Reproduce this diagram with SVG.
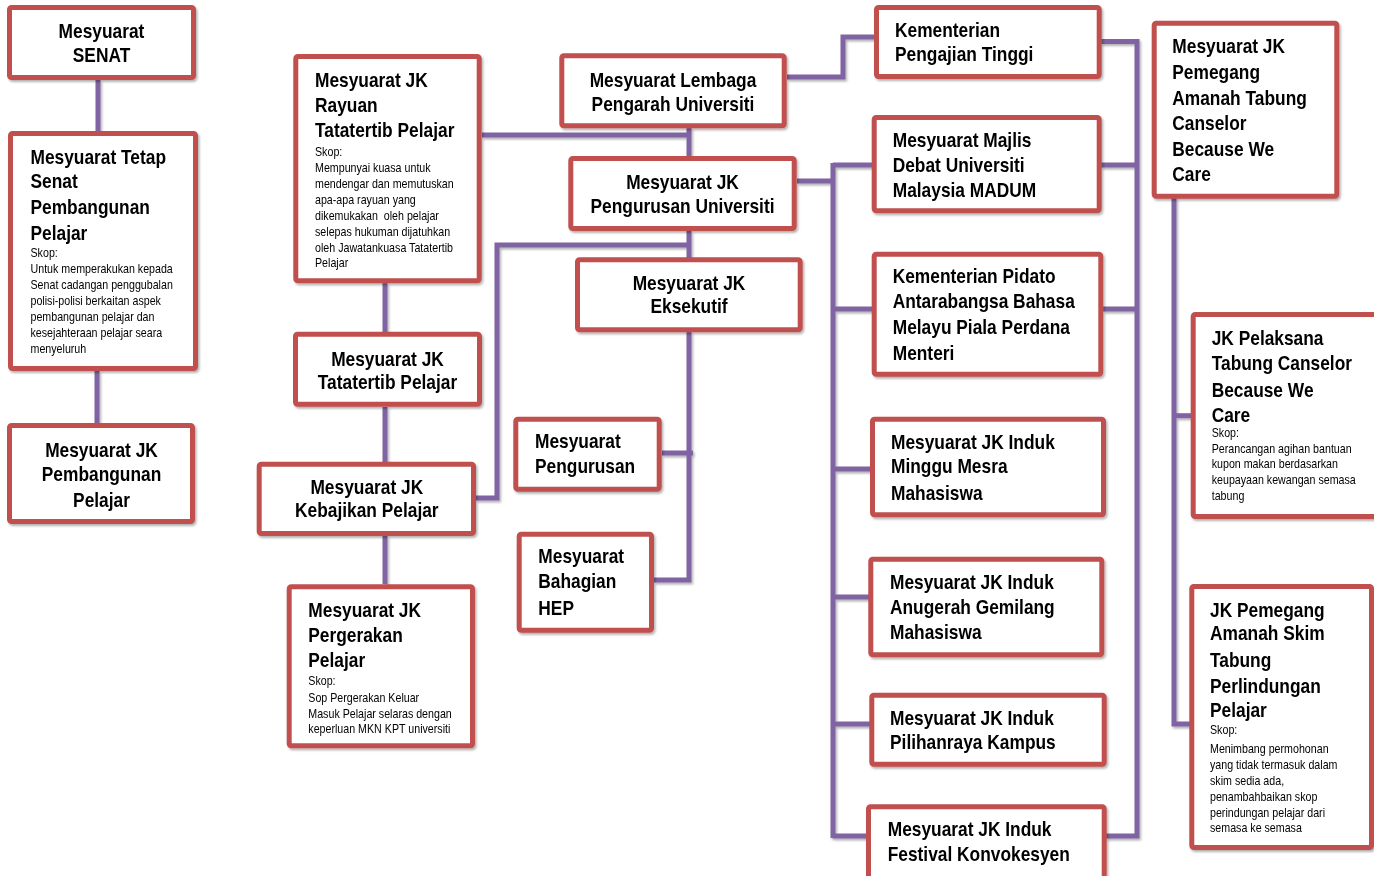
<svg xmlns="http://www.w3.org/2000/svg" width="1374" height="876" viewBox="0 0 1374 876">
<defs>
<filter id="sh" x="-10%" y="-10%" width="120%" height="120%">
<feDropShadow dx="1.5" dy="2" stdDeviation="1.2" flood-color="#000" flood-opacity="0.3"/>
</filter>
<style>
.box{fill:#fff;stroke:#C0504D;stroke-width:5;}
.ln{fill:none;stroke:#8064A2;stroke-width:5;stroke-linejoin:miter;stroke-linecap:butt;}
.b{font-family:"Liberation Sans",Arial,sans-serif;font-weight:bold;font-size:19.5px;fill:#000;}
.s{font-family:"Liberation Sans",Arial,sans-serif;font-size:12px;fill:#000;}
.m{text-anchor:middle;}
</style>
</defs>
<rect width="1374" height="876" fill="#fff"/>
<g id="connectors" filter="url(#sh)">
<path class="ln" d="M98 80V131"/>
<path class="ln" d="M97 371V423"/>
<path class="ln" d="M385 283V332"/>
<path class="ln" d="M385 407V462"/>
<path class="ln" d="M385 536V584"/>
<path class="ln" d="M482 135H689"/>
<path class="ln" d="M689 128V157"/>
<path class="ln" d="M689 231V258"/>
<path class="ln" d="M476 498H497V245H689"/>
<path class="ln" d="M689 332V580H654"/>
<path class="ln" d="M662 453H693"/>
<path class="ln" d="M787 77H843V37H876"/>
<path class="ln" d="M1101 41.5H1137V836H1106"/>
<path class="ln" d="M1101 165H1137"/>
<path class="ln" d="M1103 309H1137"/>
<path class="ln" d="M797 181H833"/>
<path class="ln" d="M833 163V838"/>
<path class="ln" d="M833 165H872"/>
<path class="ln" d="M833 309H872"/>
<path class="ln" d="M833 469H871"/>
<path class="ln" d="M833 597H869"/>
<path class="ln" d="M833 724H870"/>
<path class="ln" d="M833 836H867"/>
<path class="ln" d="M1174 198V724H1190"/>
<path class="ln" d="M1174 415.7H1192"/>
</g>
<g filter="url(#sh)">
<g id="n-senat">
<rect class="box" x="9.5" y="7.5" width="184" height="70" rx="2"/>
<text class="b m" transform="translate(101.5 0) scale(.89 1)"><tspan x="0" y="38">Mesyuarat</tspan><tspan x="0" y="62">SENAT</tspan></text>
</g>
<g id="n-tetap">
<rect class="box" x="10.5" y="133.5" width="185" height="235" rx="2"/>
<text class="b" transform="translate(30.5 0) scale(.89 1)"><tspan x="0" y="164">Mesyuarat Tetap</tspan><tspan x="0" y="188">Senat</tspan><tspan x="0" y="214.5">Pembangunan</tspan><tspan x="0" y="240">Pelajar</tspan></text>
<text class="s" transform="translate(30.5 0) scale(.89 1)"><tspan x="0" y="257">Skop:</tspan><tspan x="0" y="273.5">Untuk memperakukan kepada</tspan><tspan x="0" y="289.5">Senat cadangan penggubalan</tspan><tspan x="0" y="305.5">polisi-polisi berkaitan aspek</tspan><tspan x="0" y="321.5">pembangunan pelajar dan</tspan><tspan x="0" y="337.5">kesejahteraan pelajar seara</tspan><tspan x="0" y="353">menyeluruh</tspan></text>
</g>
<g id="n-jkpembangunan">
<rect class="box" x="9.5" y="425.5" width="183" height="96" rx="2"/>
<text class="b m" transform="translate(101.5 0) scale(.89 1)"><tspan x="0" y="456.7">Mesyuarat JK</tspan><tspan x="0" y="480.7">Pembangunan</tspan><tspan x="0" y="506.7">Pelajar</tspan></text>
</g>
<g id="n-rayuan">
<rect class="box" x="295.8" y="56.5" width="183.4" height="224.3" rx="2"/>
<text class="b" transform="translate(315 0) scale(.89 1)"><tspan x="0" y="86.7">Mesyuarat JK</tspan><tspan x="0" y="111.7">Rayuan</tspan><tspan x="0" y="137.3">Tatatertib Pelajar</tspan></text>
<text class="s" transform="translate(315 0) scale(.89 1)"><tspan x="0" y="156">Skop:</tspan><tspan x="0" y="171.7">Mempunyai kuasa untuk</tspan><tspan x="0" y="187.7">mendengar dan memutuskan</tspan><tspan x="0" y="204">apa-apa rayuan yang</tspan><tspan x="0" y="220" xml:space="preserve">dikemukakan  oleh pelajar</tspan><tspan x="0" y="235.7">selepas hukuman dijatuhkan</tspan><tspan x="0" y="251.7">oleh Jawatankuasa Tatatertib</tspan><tspan x="0" y="267.3">Pelajar</tspan></text>
</g>
<g id="n-tatatertib">
<rect class="box" x="295.5" y="334.2" width="184" height="70" rx="2"/>
<text class="b m" transform="translate(387.5 0) scale(.89 1)"><tspan x="0" y="366">Mesyuarat JK</tspan><tspan x="0" y="389.3">Tatatertib Pelajar</tspan></text>
</g>
<g id="n-kebajikan">
<rect class="box" x="259.2" y="464.2" width="214.3" height="69.3" rx="2"/>
<text class="b m" transform="translate(366.8 0) scale(.89 1)"><tspan x="0" y="494">Mesyuarat JK</tspan><tspan x="0" y="517.3">Kebajikan Pelajar</tspan></text>
</g>
<g id="n-pergerakan">
<rect class="box" x="289.2" y="586.8" width="183.3" height="159" rx="2"/>
<text class="b" transform="translate(308.3 0) scale(.89 1)"><tspan x="0" y="616.7">Mesyuarat JK</tspan><tspan x="0" y="641.7">Pergerakan</tspan><tspan x="0" y="666.7">Pelajar</tspan></text>
<text class="s" transform="translate(308.3 0) scale(.89 1)"><tspan x="0" y="685">Skop:</tspan><tspan x="0" y="701.7">Sop Pergerakan Keluar</tspan><tspan x="0" y="717.7">Masuk Pelajar selaras dengan</tspan><tspan x="0" y="733.3">keperluan MKN KPT universiti</tspan></text>
</g>
<g id="n-lembaga">
<rect class="box" x="561.8" y="55.8" width="222.4" height="70" rx="2"/>
<text class="b m" transform="translate(673 0) scale(.89 1)"><tspan x="0" y="87.3">Mesyuarat Lembaga</tspan><tspan x="0" y="110.7">Pengarah Universiti</tspan></text>
</g>
<g id="n-pengurusan-univ">
<rect class="box" x="570.8" y="158.5" width="223.4" height="70" rx="2"/>
<text class="b m" transform="translate(682.5 0) scale(.89 1)"><tspan x="0" y="189.3">Mesyuarat JK</tspan><tspan x="0" y="212.7">Pengurusan Universiti</tspan></text>
</g>
<g id="n-eksekutif">
<rect class="box" x="577.5" y="259.8" width="222.7" height="70" rx="2"/>
<text class="b m" transform="translate(689 0) scale(.89 1)"><tspan x="0" y="290">Mesyuarat JK</tspan><tspan x="0" y="313.3">Eksekutif</tspan></text>
</g>
<g id="n-pengurusan">
<rect class="box" x="515.8" y="419.2" width="143.4" height="70" rx="2"/>
<text class="b" transform="translate(535 0) scale(.89 1)"><tspan x="0" y="448.3">Mesyuarat</tspan><tspan x="0" y="472.7">Pengurusan</tspan></text>
</g>
<g id="n-hep">
<rect class="box" x="519.2" y="534.2" width="132.3" height="96" rx="2"/>
<text class="b" transform="translate(538.3 0) scale(.89 1)"><tspan x="0" y="563.3">Mesyuarat</tspan><tspan x="0" y="588.3">Bahagian</tspan><tspan x="0" y="615">HEP</tspan></text>
</g>
<g id="n-kpt">
<rect class="box" x="876.5" y="7.5" width="222.7" height="69" rx="2"/>
<text class="b" transform="translate(895 0) scale(.89 1)"><tspan x="0" y="36.7">Kementerian</tspan><tspan x="0" y="61">Pengajian Tinggi</tspan></text>
</g>
<g id="n-madum">
<rect class="box" x="874.2" y="117.5" width="225" height="93.3" rx="2"/>
<text class="b" transform="translate(892.7 0) scale(.89 1)"><tspan x="0" y="146.7">Mesyuarat Majlis</tspan><tspan x="0" y="171.7">Debat Universiti</tspan><tspan x="0" y="196.7">Malaysia MADUM</tspan></text>
</g>
<g id="n-pidato">
<rect class="box" x="874.2" y="254.2" width="226.6" height="120" rx="2"/>
<text class="b" transform="translate(892.7 0) scale(.89 1)"><tspan x="0" y="283.3">Kementerian Pidato</tspan><tspan x="0" y="308.3">Antarabangsa Bahasa</tspan><tspan x="0" y="334.3">Melayu Piala Perdana</tspan><tspan x="0" y="360">Menteri</tspan></text>
</g>
<g id="n-minggu">
<rect class="box" x="872.5" y="419.2" width="231" height="95.6" rx="2"/>
<text class="b" transform="translate(891 0) scale(.89 1)"><tspan x="0" y="449.3">Mesyuarat JK Induk</tspan><tspan x="0" y="473.3">Minggu Mesra</tspan><tspan x="0" y="500">Mahasiswa</tspan></text>
</g>
<g id="n-anugerah">
<rect class="box" x="870.8" y="559.2" width="231" height="95.6" rx="2"/>
<text class="b" transform="translate(890 0) scale(.89 1)"><tspan x="0" y="589.3">Mesyuarat JK Induk</tspan><tspan x="0" y="614">Anugerah Gemilang</tspan><tspan x="0" y="639.3">Mahasiswa</tspan></text>
</g>
<g id="n-pilihanraya">
<rect class="box" x="871.8" y="695.2" width="232.4" height="69" rx="2"/>
<text class="b" transform="translate(890 0) scale(.89 1)"><tspan x="0" y="725">Mesyuarat JK Induk</tspan><tspan x="0" y="749.3">Pilihanraya Kampus</tspan></text>
</g>
<g id="n-festival">
<rect class="box" x="868.5" y="806.8" width="235.7" height="75" rx="2"/>
<text class="b" transform="translate(887.7 0) scale(.89 1)"><tspan x="0" y="836">Mesyuarat JK Induk</tspan><tspan x="0" y="861">Festival Konvokesyen</tspan></text>
</g>
<g id="n-pemegang">
<rect class="box" x="1154.2" y="23.2" width="182.6" height="173" rx="2"/>
<text class="b" transform="translate(1172.3 0) scale(.89 1)"><tspan x="0" y="53.3">Mesyuarat JK</tspan><tspan x="0" y="79">Pemegang</tspan><tspan x="0" y="105">Amanah Tabung</tspan><tspan x="0" y="130">Canselor</tspan><tspan x="0" y="156">Because We</tspan><tspan x="0" y="181">Care</tspan></text>
</g>
<g id="n-pelaksana">
<rect class="box" x="1193.2" y="314.5" width="190" height="202" rx="2"/>
<text class="b" transform="translate(1211.7 0) scale(.89 1)"><tspan x="0" y="345">JK Pelaksana</tspan><tspan x="0" y="370">Tabung Canselor</tspan><tspan x="0" y="396.7">Because We</tspan><tspan x="0" y="421.7">Care</tspan></text>
<text class="s" transform="translate(1211.7 0) scale(.89 1)"><tspan x="0" y="436.7">Skop:</tspan><tspan x="0" y="453.3">Perancangan agihan bantuan</tspan><tspan x="0" y="468.3">kupon makan berdasarkan</tspan><tspan x="0" y="484.3">keupayaan kewangan semasa</tspan><tspan x="0" y="500">tabung</tspan></text>
</g>
<g id="n-skim">
<rect class="box" x="1191.8" y="586.5" width="179.7" height="261" rx="2"/>
<text class="b" transform="translate(1210 0) scale(.89 1)"><tspan x="0" y="617.3">JK Pemegang</tspan><tspan x="0" y="640">Amanah Skim</tspan><tspan x="0" y="666.7">Tabung</tspan><tspan x="0" y="693.3">Perlindungan</tspan><tspan x="0" y="717.3">Pelajar</tspan></text>
<text class="s" transform="translate(1210 0) scale(.89 1)"><tspan x="0" y="734">Skop:</tspan><tspan x="0" y="753.3">Menimbang permohonan</tspan><tspan x="0" y="769.3">yang tidak termasuk dalam</tspan><tspan x="0" y="785">skim sedia ada,</tspan><tspan x="0" y="801">penambahbaikan skop</tspan><tspan x="0" y="816.7">perindungan pelajar dari</tspan><tspan x="0" y="832.3">semasa ke semasa</tspan></text>
</g>
</g>
</svg>
